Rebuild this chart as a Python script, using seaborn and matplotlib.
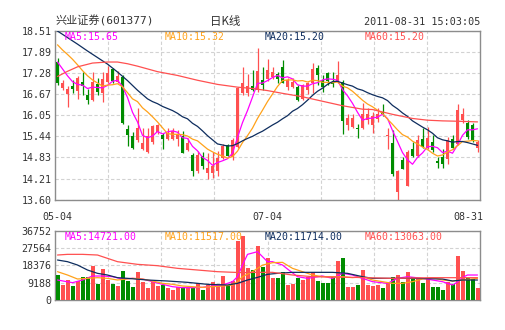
import numpy as np
import pandas as pd
import matplotlib
matplotlib.use("Agg")
import matplotlib.pyplot as plt
import matplotlib.transforms as mtransforms
import seaborn as sns

sns.set_style("white")
plt.rcParams['font.family'] = ['DejaVu Sans Mono', 'Noto Sans CJK SC']

# ---------------- data ----------------
title_name = "兴业证券(601377)"
title_mid = "日K线"
timestamp = "2011-08-31 15:03:05"
date_tick_idx = [0, 42, 84]
date_tick_labels = ["05-04", "07-04", "08-31"]
price_ticks = [13.60, 14.21, 14.83, 15.44, 16.05, 16.67, 17.28, 17.89, 18.51]
vol_ticks = [0, 9188, 18376, 27564, 36752]
price_legend = ["MA5:15.65", "MA10:15.32", "MA20:15.20", "MA60:15.20"]
vol_legend = ["MA5:14721.00", "MA10:11517.00", "MA20:11714.00", "MA60:13063.00"]

opens = [17.61, 16.85, 16.67, 16.90, 16.76, 17.03, 16.64, 16.49, 16.95, 16.71,
         17.03, 17.40, 17.03, 17.16, 15.65, 15.44, 15.32, 15.06, 14.98, 15.28,
         15.57, 15.47, 15.37, 15.35, 15.37, 15.44, 15.05, 14.91, 14.44, 14.86,
         14.37, 14.37, 14.44, 14.80, 15.19, 14.83, 15.12, 16.70, 16.70, 16.89,
         16.80, 17.09, 17.12, 17.17, 17.25, 17.46, 16.87, 16.88, 16.87, 16.53,
         16.80, 16.98, 17.42, 17.08, 17.27, 17.03, 17.05, 17.03, 15.76, 15.71,
         15.69, 15.67, 15.91, 15.78, 15.94, 16.15, 15.44, 15.25, 13.83, 14.76,
         14.00, 15.08, 14.88, 15.37, 15.11, 15.28, 14.73, 14.84, 14.77, 15.37,
         15.23, 15.91, 15.84, 15.76, 15.10]
highs = [17.73, 17.08, 16.91, 17.08, 17.20, 17.32, 16.83, 17.32, 17.13, 17.32,
         17.47, 17.44, 17.34, 17.22, 15.76, 15.57, 16.25, 15.67, 15.67, 15.76,
         15.81, 15.55, 15.67, 15.67, 15.62, 15.61, 15.38, 14.95, 15.02, 14.98,
         14.97, 14.99, 15.02, 15.22, 15.22, 15.38, 16.88, 17.45, 17.25, 17.37,
         18.00, 17.45, 17.70, 17.46, 17.30, 17.66, 17.13, 17.13, 16.93, 16.95,
         17.03, 17.57, 17.52, 17.22, 17.32, 17.32, 17.64, 17.08, 16.10, 16.08,
         15.81, 16.40, 16.25, 16.15, 16.25, 16.37, 15.67, 15.62, 14.47, 14.84,
         15.03, 15.28, 15.47, 15.67, 15.71, 15.47, 14.84, 15.08, 15.42, 15.49,
         16.37, 16.25, 15.91, 15.83, 15.32]
lows = [16.93, 16.79, 16.29, 16.69, 16.54, 16.64, 16.37, 16.46, 16.64, 16.45,
        16.98, 16.98, 16.98, 15.81, 15.16, 15.08, 15.28, 15.03, 14.96, 15.23,
        15.52, 15.06, 15.32, 15.32, 15.16, 14.95, 15.02, 14.29, 14.39, 14.49,
        14.19, 14.22, 14.29, 14.78, 14.86, 14.75, 15.10, 16.63, 16.62, 16.76,
        16.74, 16.78, 17.05, 17.10, 17.00, 16.98, 16.79, 16.85, 16.47, 16.49,
        16.66, 16.69, 16.93, 16.74, 16.93, 16.88, 16.98, 15.52, 15.62, 15.67,
        15.39, 15.65, 15.81, 15.55, 15.86, 16.04, 15.08, 14.28, 13.60, 14.48,
        13.99, 14.84, 14.84, 15.10, 15.06, 15.00, 14.52, 14.52, 14.64, 15.06,
        15.18, 15.84, 15.37, 15.28, 14.98]
closes = [17.00, 16.98, 16.83, 16.81, 17.15, 16.89, 16.49, 17.03, 16.72, 17.10,
          17.27, 17.06, 17.20, 15.84, 15.47, 15.11, 15.69, 15.26, 15.45, 15.73,
          15.78, 15.35, 15.55, 15.59, 15.52, 14.97, 15.25, 14.44, 14.90, 14.58,
          14.52, 14.58, 14.81, 15.15, 14.88, 15.34, 16.85, 17.00, 16.89, 16.80,
          17.34, 16.92, 17.36, 17.31, 17.10, 17.00, 17.07, 17.03, 16.50, 16.92,
          16.99, 17.39, 17.22, 16.88, 17.05, 16.95, 17.22, 15.88, 15.96, 15.98,
          15.65, 16.10, 16.10, 16.04, 16.10, 16.08, 15.49, 14.35, 14.44, 14.50,
          15.00, 14.86, 15.34, 15.12, 15.40, 15.03, 14.67, 14.64, 15.32, 15.10,
          16.20, 16.10, 15.42, 15.32, 15.28]
volumes = [13253, 7952, 10602, 7598, 10072, 12369, 12369, 18200, 8482, 16433,
           10602, 8482, 7421, 15373, 10249, 7068, 15020, 9719, 6538, 9719,
           7598, 7952, 6185, 5301, 7068, 7068, 6185, 6538, 8835, 5301,
           7952, 9719, 7952, 12899, 7952, 10072, 31276, 33926, 17140, 15903,
           28625, 17670, 22088, 11839, 11839, 14666, 7952, 8482, 11839, 10602,
           12369, 15020, 10072, 9188, 9188, 12369, 20851, 22441, 7068, 7068,
           7952, 15903, 7952, 7421, 7952, 6538, 8835, 12369, 13253, 9719,
           14666, 12369, 11486, 8835, 11486, 7068, 7068, 5301, 9365, 8482,
           23324, 15373, 11486, 11132, 6538]

ma5 = [17.60, 17.40, 17.20, 17.03, 16.95, 16.93, 16.83, 16.87, 16.86, 16.85,
       16.92, 17.04, 17.07, 16.89, 16.57, 16.14, 15.86, 15.47, 15.40, 15.45,
       15.58, 15.51, 15.57, 15.60, 15.56, 15.40, 15.38, 15.15, 15.02, 14.83,
       14.74, 14.60, 14.68, 14.73, 14.79, 14.95, 15.41, 15.84, 16.19, 16.58,
       16.98, 16.99, 17.06, 17.15, 17.21, 17.14, 17.17, 17.11, 16.94, 16.90,
       16.90, 16.97, 17.00, 17.08, 17.11, 17.10, 17.07, 16.80, 16.62, 16.40,
       16.14, 15.91, 15.96, 15.97, 16.00, 16.08, 15.96, 15.61, 15.29, 14.97,
       14.76, 14.63, 14.83, 14.96, 15.14, 15.15, 15.11, 14.97, 15.01, 14.95,
       15.19, 15.47, 15.63, 15.63, 15.66]
ma10 = [18.10, 17.95, 17.82, 17.68, 17.52, 17.35, 17.20, 17.08, 16.99, 16.90,
        16.93, 16.94, 16.97, 16.88, 16.71, 16.53, 16.45, 16.27, 16.15, 16.01,
        15.86, 15.69, 15.52, 15.50, 15.50, 15.49, 15.45, 15.36, 15.31, 15.19,
        15.07, 14.99, 14.92, 14.87, 14.81, 14.85, 15.01, 15.26, 15.46, 15.68,
        15.96, 16.20, 16.45, 16.67, 16.89, 17.06, 17.08, 17.08, 17.05, 17.06,
        17.02, 17.07, 17.06, 17.01, 17.01, 17.00, 17.02, 16.90, 16.85, 16.75,
        16.62, 16.49, 16.38, 16.30, 16.20, 16.11, 15.94, 15.79, 15.63, 15.49,
        15.42, 15.30, 15.22, 15.13, 15.06, 14.95, 14.87, 14.90, 14.99, 15.05,
        15.17, 15.29, 15.30, 15.32, 15.31]
ma20_idx = [0, 2, 4, 6, 8, 10, 12, 14, 16, 18] + list(range(19, 85))
ma20 = [18.50, 18.31, 18.12, 17.92, 17.73, 17.54, 17.31, 17.06, 16.78, 16.53,
        16.45, 16.39, 16.31, 16.25, 16.19, 16.11, 16.01, 15.95, 15.82, 15.73,
        15.60, 15.46, 15.34, 15.22, 15.19, 15.16, 15.17, 15.23, 15.31, 15.38,
        15.44, 15.52, 15.59, 15.68, 15.77,
        15.85, 15.95, 16.04, 16.17, 16.25, 16.36, 16.49, 16.63, 16.75, 16.84,
        16.95, 17.03, 17.04, 16.99, 16.94, 16.90, 16.82, 16.78, 16.71, 16.65,
        16.60, 16.56, 16.48, 16.34, 16.24, 16.12, 16.02, 15.89, 15.80, 15.71,
        15.63, 15.53, 15.40, 15.34, 15.31, 15.27, 15.29, 15.29, 15.26, 15.22, 15.18]
ma60_idx = [0, 2, 4, 7, 10, 12, 14, 16, 20, 24, 28, 32, 36, 39, 42, 45, 49, 53,
            57, 61, 63, 67, 71, 74, 77, 80, 84]
ma60 = [17.18, 17.33, 17.46, 17.57, 17.60, 17.60, 17.55, 17.48, 17.32, 17.21,
        17.07, 16.95, 16.87, 16.83, 16.77, 16.69, 16.59, 16.46, 16.33, 16.23,
        16.22, 16.08, 15.96, 15.91, 15.89, 15.88, 15.86]

vma5_idx = [0, 3, 5, 7, 9, 11, 13, 15, 17, 19, 21, 23, 25, 27, 29, 31, 33, 35, 36,
            37, 38, 40, 41, 42, 43, 45, 46, 48, 50, 53, 55, 57, 59, 61, 63, 66,
            68, 70, 73, 75, 77, 79, 80, 81, 82, 84]
vma5 = [10602, 9188, 10602, 12722, 12722, 12369, 11132, 11486, 11132, 9719,
        8305, 7068, 6538, 6538, 6715, 7421, 7952, 9719, 12369, 18554, 24208,
        25622, 22971, 20321, 20321, 18554, 16433, 12369, 11486, 12722, 11486,
        14136, 13253, 11486, 9719, 8835, 11486, 12369, 11486, 10602, 9719, 7952,
        9500, 12000, 13253, 13253]
vma10_idx = [0, 2, 4, 6, 8, 10, 12, 15, 17, 19, 21, 23, 25, 27, 29, 31, 33, 35,
             36, 37, 39, 41, 43, 45, 47, 49, 51, 53, 57, 59, 61, 63, 65, 67, 69,
             71, 73, 75, 77, 79, 81, 84]
vma10 = [15020, 13253, 11132, 11486, 11839, 11486, 10602, 11486, 11132, 10072,
         8835, 8305, 7421, 7068, 6715, 7068, 7421, 7952, 9719, 12369, 15020,
         18500, 19790, 19967, 16787, 15020, 13253, 12369, 12369, 11839, 12369,
         10602, 9719, 8835, 8835, 9719, 11132, 11839, 10602, 10072, 10602, 11486]
vma20_idx = [0, 2, 4, 6, 8, 10, 12, 14, 18, 22, 26, 30, 34, 36, 38, 40, 42, 44,
             47, 55, 58, 61, 63, 71, 77, 79, 81, 84]
vma20 = [21204, 20321, 18554, 15903, 14136, 13253, 11839, 11486, 10602, 10072,
         9365, 8305, 7952, 8835, 10602, 12000, 13606, 14136, 14666, 14666, 14136,
         12369, 11486, 11486, 11132, 10072, 10602, 10602]
vma60_idx = [0, 2, 5, 8, 10, 12, 16, 20, 24, 28, 32, 37, 39, 43, 47, 51, 59, 67,
             75, 84]
vma60 = [23855, 24208, 24208, 23855, 22088, 20321, 18907, 18200, 16787, 15903,
         15020, 14490, 14666, 14666, 13253, 12369, 12016, 11486, 11839, 11839]

# ---------------- styling ----------------
UP = "#ff5050"
DOWN = "#008c00"
C_MA5 = "#ff00ff"
C_MA10 = "#ffa21a"
C_MA20 = "#0e2d5e"
C_MA60 = "#ff5050"
TXT = "#333333"
FRAME = "#8c8c8c"
GRID = "#d2d2d2"

idx = np.arange(len(closes))
df = pd.DataFrame({"i": idx, "open": opens, "high": highs, "low": lows,
                   "close": closes, "vol": volumes})
df["dir"] = np.where(df["close"] >= df["open"], "up", "down")

fig = plt.figure(figsize=(5.05, 3.30), dpi=100)
ax = fig.add_axes([55 / 505, (330 - 199.7) / 330, 425 / 505, 169 / 330])
axv = fig.add_axes([55 / 505, 30 / 330, 425 / 505, 69.3 / 330])

x_min, x_max = -0.5, len(closes) - 0.5
vgrid = [x_min + (x_max - x_min) * k / 8 for k in range(1, 8)]

for a in (ax, axv):
    for s in a.spines.values():
        s.set_color(FRAME)
        s.set_linewidth(1.0)
    a.set_xlim(x_min, x_max)
    a.set_xticks(vgrid, minor=True)
    a.grid(False)
    a.grid(True, which="minor", axis="x", linestyle=(0, (3, 2)), color=GRID, lw=0.8)
    a.grid(True, which="major", axis="y", linestyle=(0, (3, 2)), color=GRID, lw=0.8)
    a.set_axisbelow(True)
    a.tick_params(which="both", length=0, colors=TXT, labelsize=7.2)

# ---- candlesticks ----
colors = [UP if d == "up" else DOWN for d in df["dir"]]
ax.vlines(df["i"], df["low"], df["high"], colors=colors, linewidth=0.9, zorder=2)
body_low = np.minimum(df["open"], df["close"])
body_h = np.maximum(np.abs(df["close"] - df["open"]), 0.025)
ax.bar(df["i"], body_h, bottom=body_low, width=0.78, color=colors,
       linewidth=0, zorder=3)

# ---- MA lines (price) ----
sns.lineplot(x=idx, y=ma5, ax=ax, color=C_MA5, linewidth=0.9, sort=False, zorder=4)
sns.lineplot(x=idx, y=ma10, ax=ax, color=C_MA10, linewidth=0.9, sort=False, zorder=4)
sns.lineplot(x=ma20_idx, y=ma20, ax=ax, color=C_MA20, linewidth=0.9, sort=False, zorder=4)
sns.lineplot(x=ma60_idx, y=ma60, ax=ax, color=C_MA60, linewidth=0.9, sort=False, zorder=4)

ax.set_ylim(price_ticks[0], price_ticks[-1])
ax.set_yticks(price_ticks)
ax.set_yticklabels([f"{v:.2f}" for v in price_ticks])
ax.set_xlim(x_min, x_max)
ax.set_xticks(date_tick_idx)
ax.set_xticklabels(date_tick_labels)
ax.tick_params(axis="x", pad=9)
ax.tick_params(axis="y", pad=2.5)
ax.set_xlabel("")
ax.set_ylabel("")
last = ax.get_xticklabels()[-1]
last.set_horizontalalignment("right")
last.set_transform(last.get_transform() +
                   mtransforms.ScaledTranslation(5.5 / 100, 0, fig.dpi_scale_trans))

# ---- volume bars ----
sns.barplot(data=df, x="i", y="vol", hue="dir", palette={"up": UP, "down": DOWN},
            dodge=False, native_scale=True, orient="x", width=0.8, errorbar=None,
            saturation=1, linewidth=0, legend=False, ax=axv, zorder=3)
sns.lineplot(x=vma5_idx, y=vma5, ax=axv, color=C_MA5, linewidth=0.9, sort=False, zorder=4)
sns.lineplot(x=vma10_idx, y=vma10, ax=axv, color=C_MA10, linewidth=0.9, sort=False, zorder=4)
sns.lineplot(x=vma20_idx, y=vma20, ax=axv, color=C_MA20, linewidth=0.9, sort=False, zorder=4)
sns.lineplot(x=vma60_idx, y=vma60, ax=axv, color=C_MA60, linewidth=0.9, sort=False, zorder=4)
axv.set_xlim(x_min, x_max)
axv.set_xticks([])
axv.set_xticks(vgrid, minor=True)
axv.set_ylim(vol_ticks[0], vol_ticks[-1])
axv.set_yticks(vol_ticks)
axv.set_yticklabels([str(v) for v in vol_ticks])
axv.tick_params(axis="y", pad=2.5)
axv.set_xlabel("")
axv.set_ylabel("")

# ---- legends ----
leg_colors = [C_MA5, C_MA10, C_MA20, C_MA60]
leg_x = [(65 - 55) / 425, (165 - 55) / 425, (265 - 55) / 425, (365 - 55) / 425]
for t, c, xx in zip(price_legend, leg_colors, leg_x):
    ax.text(xx, 1 - 6.5 / 169, t, transform=ax.transAxes, color=c,
            fontsize=7.1, va="center", ha="left", zorder=6)
for t, c, xx in zip(vol_legend, leg_colors, leg_x):
    axv.text(xx, 1 - 6.3 / 69.3, t, transform=axv.transAxes, color=c,
             fontsize=7.1, va="center", ha="left", zorder=6)

# ---- title row ----
fig.text(55 / 505, 1 - 21 / 330, title_name, fontsize=8, color=TXT,
         ha="left", va="center")
fig.text(225 / 505, 1 - 21 / 330, title_mid, fontsize=8.3, color=TXT,
         ha="center", va="center", family=["Noto Sans CJK SC", "DejaVu Sans"])
fig.text(480 / 505, 1 - 22 / 330, timestamp, fontsize=7.3, color=TXT,
         ha="right", va="center")

fig.savefig("out.png", dpi=100)
